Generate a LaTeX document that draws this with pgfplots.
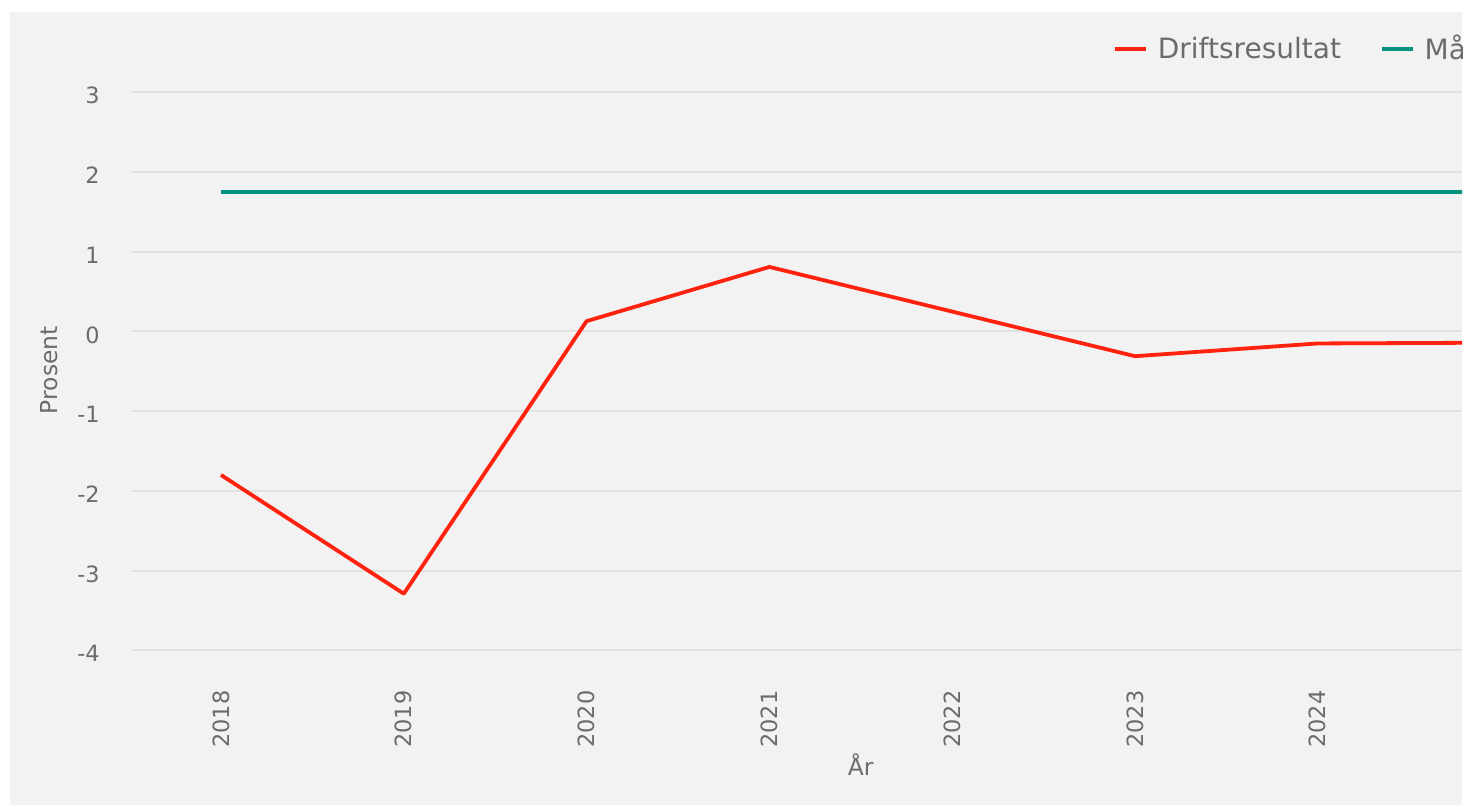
\documentclass[border=0pt]{standalone}
\usepackage{fontspec}
\setmainfont{DejaVu Sans}
\usepackage{pgfplots}
\pgfplotsset{compat=1.18}
\definecolor{txt}{HTML}{6B6B6B}
\definecolor{bg}{HTML}{F2F2F2}
\definecolor{gridc}{HTML}{E2E2E2}
\definecolor{red1}{HTML}{FF230F}
\definecolor{teal1}{HTML}{009480}
\begin{document}
\begin{tikzpicture}
\fill[white] (0,0) rectangle (733pt,403.5pt);
\fill[bg] (5pt,1pt) rectangle (731pt,397.5pt);
\begin{scope}
\clip (5pt,1pt) rectangle (731pt,397.5pt);
\begin{axis}[
  at={(65.5pt,64.4pt)}, anchor=south west,
  x=91.4pt, y=39.85pt,
  xmin=2017.5077, xmax=2025.49, ymin=-4.35, ymax=3.38,
  axis line style={draw=none},
  tick style={draw=none}, major tick length=0pt,
  ymajorgrids, grid style={gridc, line width=1pt},
  xtick={2018,...,2025}, ytick={-4,...,3},
  /pgf/number format/assume math mode=true,
  /pgf/number format/1000 sep={},
  ticklabel style={font=\fontsize{11.2}{13}\selectfont, text=txt},
  yticklabel style={inner sep=0pt, anchor=east, xshift=-15.5pt, yshift=-1.7pt},
  xticklabel style={yshift=-6pt, rotate=90, anchor=east, inner sep=0pt},
  xlabel={År}, ylabel={Prosent},
  label style={font=\fontsize{11.7}{14}\selectfont, text=txt, inner sep=0pt},
  xlabel style={at={(axis description cs:0.5,0)}, anchor=base, yshift=-48.9pt},
  ylabel style={at={(axis description cs:-0.05,0.5)}, anchor=south},
  legend columns=-1,
  legend style={at={(axis cs:2022.880,3.545)}, anchor=west, draw=none, fill=none,
    inner sep=0pt, outer sep=0pt,
    nodes={inner sep=0pt, text=txt, font=\fontsize{14}{16}\selectfont},
    /tikz/every odd column/.append style={column sep=5pt},
    /tikz/every even column/.append style={column sep=19.5pt}},
  legend image code/.code={\draw[#1] (0pt,0pt) -- (15.5pt,0pt);},
]
\addplot[red1, line width=1.9pt, line join=round] coordinates {
  (2018,-1.80) (2019,-3.29) (2020,0.13) (2021,0.81) (2022,0.25)
  (2023,-0.31) (2024,-0.15) (2025,-0.14)};
\addlegendentry{Driftsresultat}
\addplot[teal1, line width=1.8pt] coordinates {
  (2018,1.75) (2019,1.75) (2020,1.75) (2021,1.75) (2022,1.75)
  (2023,1.75) (2024,1.75) (2025,1.75)};
\addlegendentry{Måltall}
\end{axis}
\end{scope}
\pgfresetboundingbox
\useasboundingbox (0,0) rectangle (733pt,403.5pt);
\end{tikzpicture}
\end{document}
